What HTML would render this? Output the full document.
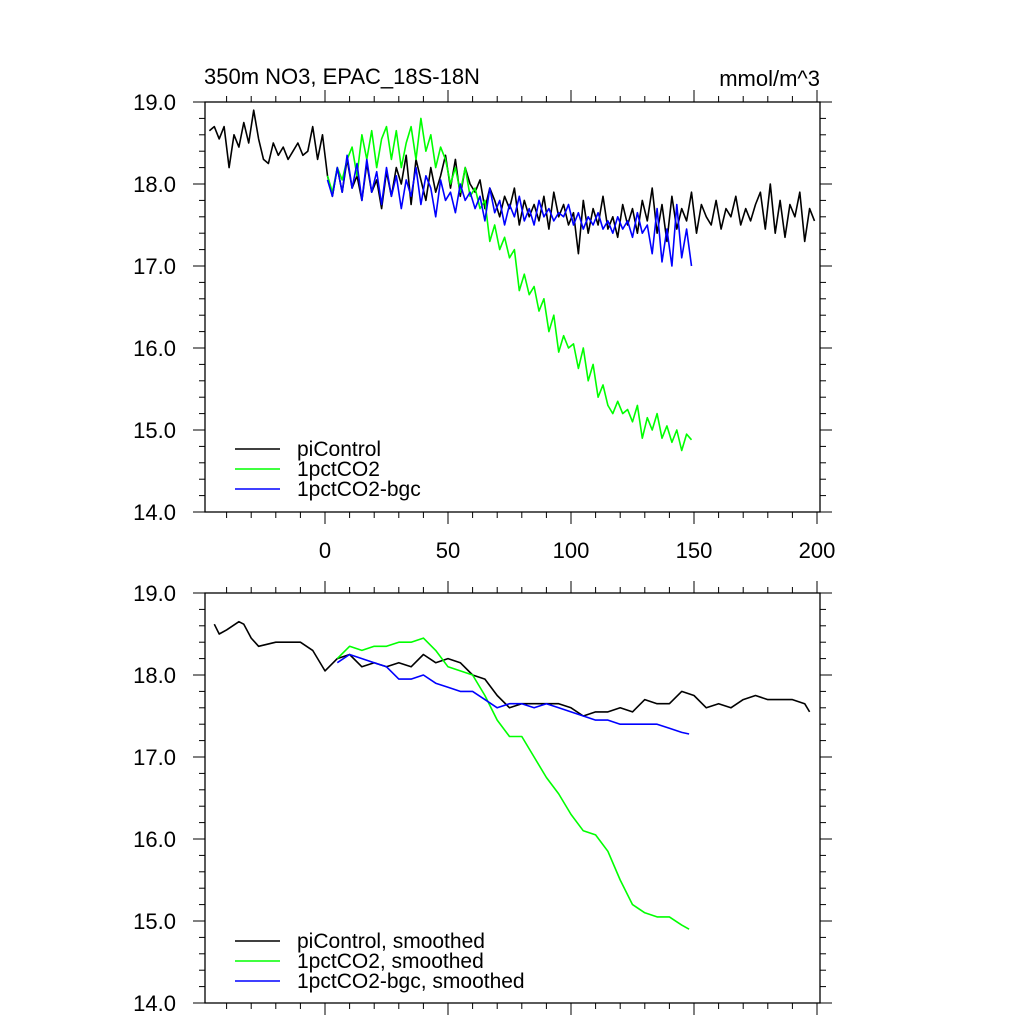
<!DOCTYPE html>
<html><head><meta charset="utf-8"><style>
html,body{margin:0;padding:0;background:#fff}
svg{display:block;font-family:"Liberation Sans",sans-serif}
</style></head><body>
<svg id="chart" width="1024" height="1024" viewBox="0 0 1024 1024" xmlns="http://www.w3.org/2000/svg"></svg>
<script>
// ---- data ----
const xTicks = [0, 50, 100, 150, 200];
const xTickLabels = ["0", "50", "100", "150", "200"];
const yTicks = [19, 18, 17, 16, 15, 14];
const yTickLabels = ["19.0", "18.0", "17.0", "16.0", "15.0", "14.0"];

const piStart = -47, piStep = 2;
const piControl = [18.65,18.7,18.55,18.7,18.2,18.6,18.45,18.75,18.5,18.9,18.55,18.3,18.25,18.5,18.35,18.45,18.3,18.4,18.5,18.35,18.4,18.7,18.3,18.6,
18.1,17.85,18.2,17.9,18.3,17.95,18.1,17.8,18.25,17.9,18.05,17.7,18.15,17.85,18.2,18.0,18.35,17.75,18.3,18.05,17.8,18.2,17.9,18.1,18.35,17.95,18.3,17.85,18.2,18.0,
17.9,18.05,17.7,17.95,17.8,17.6,17.85,17.7,17.95,17.5,17.8,17.6,17.75,17.55,17.85,17.45,17.9,17.6,17.75,17.5,
17.65,17.15,17.8,17.4,17.7,17.5,17.85,17.45,17.6,17.35,17.75,17.5,17.7,17.4,17.8,17.55,17.95,17.4,17.75,17.3,17.85,17.45,17.7,17.55,17.9,17.4,17.75,17.6,17.5,17.8,17.45,17.7,17.6,17.85,17.5,17.7,17.55,17.75,17.9,17.45,18.0,17.4,17.8,17.35,17.75,17.6,17.9,17.3,17.7,17.55];

const runStart = 1, runStep = 2;
const pct1 = [18.1,17.9,18.2,18.05,18.3,18.45,18.1,18.6,18.3,18.65,18.2,18.55,18.7,18.3,18.65,18.2,18.5,18.7,18.3,18.8,18.4,18.6,18.2,18.45,18.3,18.0,18.2,17.9,18.2,17.85,
17.95,17.7,17.8,17.3,17.5,17.2,17.35,17.1,17.2,16.7,16.9,16.65,16.75,16.45,16.6,16.2,16.4,15.95,16.15,16.0,16.05,15.75,16.0,15.6,15.8,15.4,15.55,15.3,15.2,15.35,
15.2,15.25,15.1,15.3,14.9,15.15,15.0,15.2,14.9,15.05,14.85,15.0,14.75,14.95,14.88];
const bgc = [18.05,17.85,18.2,17.9,18.35,17.95,18.25,17.8,18.3,17.9,18.15,17.75,18.2,17.85,18.1,17.7,18.05,17.85,18.2,17.75,18.1,17.95,17.6,18.05,17.8,17.9,17.65,18.0,17.8,17.9,
17.7,17.85,17.55,17.95,17.65,17.8,17.5,17.75,17.6,17.85,17.55,17.7,17.5,17.8,17.6,17.7,17.55,17.65,17.6,17.75,17.5,17.65,17.45,17.6,17.5,17.65,17.45,17.55,17.4,17.6,
17.45,17.55,17.35,17.65,17.4,17.5,17.15,17.7,17.05,17.45,17.0,17.75,17.1,17.45,17.0];

const smPiX = [-45,-43,-40,-35,-33,-30,-27,-20,-10,-5,0,5,10,15,20,25,30,35,40,45,50,55,60,65,70,75,80,85,90,95,100,105,110,115,120,125,130,135,140,145,150,155,160,165,170,175,180,185,190,195,197];
const smPi = [18.62,18.5,18.55,18.65,18.62,18.45,18.35,18.4,18.4,18.3,18.05,18.2,18.25,18.1,18.15,18.1,18.15,18.1,18.25,18.15,18.2,18.15,18.0,17.95,17.75,17.6,17.65,17.65,17.65,17.65,17.6,17.5,17.55,17.55,17.6,17.55,17.7,17.65,17.65,17.8,17.75,17.6,17.65,17.6,17.7,17.75,17.7,17.7,17.7,17.65,17.55];
const smRunX = [5,10,15,20,25,30,35,40,45,50,55,60,65,70,75,80,85,90,95,100,105,110,115,120,125,130,135,140,145,148];
const sm1pct = [18.2,18.35,18.3,18.35,18.35,18.4,18.4,18.45,18.3,18.1,18.05,18.0,17.75,17.45,17.25,17.25,17.0,16.75,16.55,16.3,16.1,16.05,15.85,15.5,15.2,15.1,15.05,15.05,14.95,14.9];
const smBgc = [18.15,18.25,18.2,18.15,18.1,17.95,17.95,18.0,17.9,17.85,17.8,17.8,17.7,17.6,17.65,17.65,17.6,17.65,17.6,17.55,17.5,17.45,17.45,17.4,17.4,17.4,17.4,17.35,17.3,17.28];

// ---- layout ----
const NS = "http://www.w3.org/2000/svg";
const svg = document.getElementById('chart');
const L = 205, R = 820, X0 = 325, PXU = 2.46;
const xScale = v => X0 + v * PXU;
function mk(tag, attrs, parent) {
  const e = document.createElementNS(NS, tag);
  for (const k in attrs) e.setAttribute(k, attrs[k]);
  (parent || svg).appendChild(e);
  return e;
}
function panel(top, name, showXLabels, series, legend) {
  const bot = top + 410;
  const yScale = v => top + (19 - v) * 82;
  const g = mk('g', {});
  
  
  const cp = mk('clipPath', {id: name + '-clip'}, g);
  mk('rect', {x: L, y: top, width: R - L, height: bot - top}, cp);
  series.forEach(s => {
    let d = '';
    s.vals.forEach((v, i) => {
      const xv = s.xs ? s.xs[i] : s.start + i * s.step;
      d += (i ? 'L' : 'M') + xScale(xv).toFixed(1) + ' ' + yScale(v).toFixed(1);
    });
    const p = mk('path', {d: d, fill: 'none', stroke: s.color, 'stroke-width': 1.6, 'stroke-linejoin': 'round', 'clip-path': 'url(#' + name + '-clip)'}, g);
    
    
  });
  const fr = mk('rect', {x: L, y: top, width: R - L, height: bot - top, fill: 'none', stroke: '#000', 'stroke-width': 1.3}, g);
  
  
  for (let v = -40; v <= 200; v += 10) {
    const major = v % 50 === 0;
    const len = major ? 12 : 6;
    const x = xScale(v);
    mk('line', {x1: x, x2: x, y1: top, y2: top - len, stroke: '#000', 'stroke-width': 1}, g);
    mk('line', {x1: x, x2: x, y1: bot, y2: bot + len, stroke: '#000', 'stroke-width': 1}, g);
  }
  for (let k = 0; k <= 25; k++) {
    const v = 14 + k * 0.2;
    const major = k % 5 === 0;
    const len = major ? 12 : 6;
    const y = yScale(v);
    mk('line', {x1: L, x2: L - len, y1: y, y2: y, stroke: '#000', 'stroke-width': 1}, g);
    mk('line', {x1: R, x2: R + len, y1: y, y2: y, stroke: '#000', 'stroke-width': 1}, g);
  }
  yTicks.forEach((v, i) => {
    const t = mk('text', {x: 176, y: yScale(v) + 8, 'text-anchor': 'end', 'font-size': 22}, g);
    t.textContent = yTickLabels[i];
    
    
  });
  if (showXLabels) {
    xTicks.forEach((v, i) => {
      const t = mk('text', {x: xScale(v), y: bot + 46, 'text-anchor': 'middle', 'font-size': 22}, g);
      t.textContent = xTickLabels[i];
      
      
    });
  }
  legend.forEach((l, i) => {
    const y = l.y;
    const ln = mk('line', {x1: 235, x2: 280, y1: y, y2: y, stroke: l.color, 'stroke-width': 1.6}, g);
    
    
    const t = mk('text', {x: 297, y: y + 7, 'font-size': 21}, g);
    t.textContent = l.label;
    
    
  });
}
panel(102, 'top-panel', true, [
  {name: 'picontrol-line', vals: piControl, start: piStart, step: piStep, color: '#000'},
  {name: '1pctco2-line', vals: pct1, start: runStart, step: runStep, color: '#00ff00'},
  {name: '1pctco2-bgc-line', vals: bgc, start: runStart, step: runStep, color: '#0000ff'}
], [
  {label: 'piControl', color: '#000', y: 449},
  {label: '1pctCO2', color: '#00ff00', y: 469},
  {label: '1pctCO2-bgc', color: '#0000ff', y: 489}
]);
panel(593, 'bottom-panel', false, [
  {name: 'picontrol-smoothed-line', vals: smPi, xs: smPiX, color: '#000'},
  {name: '1pctco2-smoothed-line', vals: sm1pct, xs: smRunX, color: '#00ff00'},
  {name: '1pctco2-bgc-smoothed-line', vals: smBgc, xs: smRunX, color: '#0000ff'}
], [
  {label: 'piControl, smoothed', color: '#000', y: 941},
  {label: '1pctCO2, smoothed', color: '#00ff00', y: 961},
  {label: '1pctCO2-bgc, smoothed', color: '#0000ff', y: 981}
]);
const t1 = mk('text', {x: 204, y: 84, 'font-size': 22});
t1.textContent = '350m NO3, EPAC_18S-18N';


const t2 = mk('text', {x: 820, y: 86, 'font-size': 22, 'text-anchor': 'end'});
t2.textContent = 'mmol/m^3';


</script>
</body></html>
